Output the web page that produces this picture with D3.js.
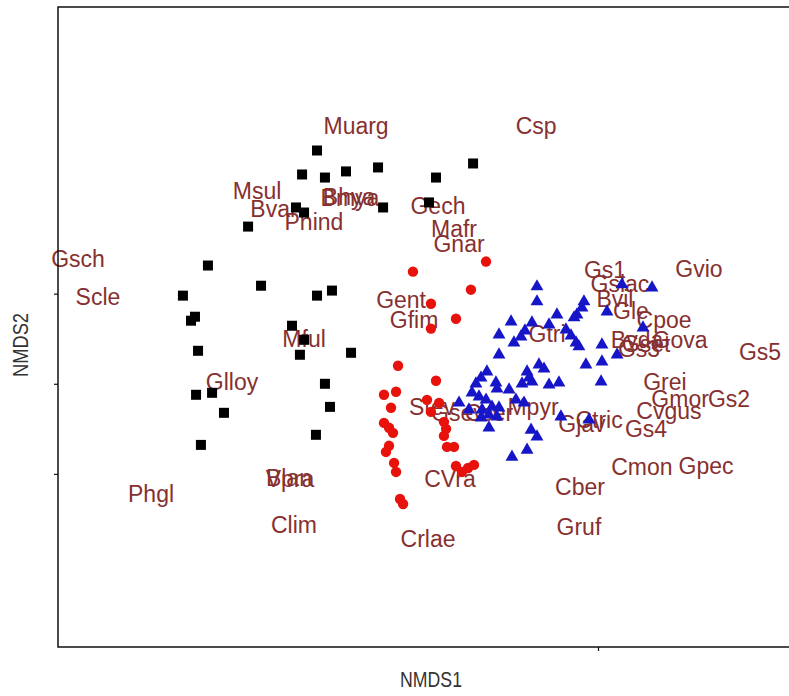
<!DOCTYPE html>
<html>
<head>
<meta charset="utf-8">
<style>
body { margin: 0; background: #fff; }
.sp text { font: 23px "Liberation Sans", Arial, sans-serif; fill: #873030; }
.axtitle { font: 22px "Liberation Sans", Arial, sans-serif; fill: #333; }
.axis .domain { display: none; }
.axis line { stroke: #111; stroke-width: 1.2; }
</style>
<script src="https://cdnjs.cloudflare.com/ajax/libs/d3/7.8.5/d3.min.js"></script>
</head>
<body>
<svg width="789" height="696"></svg>
<script>
// site scores, group 1 (black squares)
var grp1 = [
[-0.561,1.294],[-0.644,1.161],[-0.517,1.144],[-0.400,1.178],[-0.222,1.200],[0.306,1.222],
[0.100,1.144],[-0.194,0.978],[0.061,1.006],[-0.678,0.978],[-0.633,0.950],[-0.944,0.872],
[-1.167,0.656],[-0.872,0.544],[-1.306,0.489],[-0.561,0.489],[-0.478,0.517],[-1.239,0.372],
[-1.261,0.350],[-0.700,0.322],[-0.633,0.244],[-0.656,0.161],[-0.372,0.172],[-1.222,0.183],
[-1.144,-0.050],[-1.233,-0.061],[-0.517,0.000],[-1.078,-0.161],[-0.489,-0.128],[-0.567,-0.283],
[-1.206,-0.339]
];
// group 2 (red circles)
var grp2 = [
[0.378,0.678],[-0.028,0.622],[0.294,0.522],[0.072,0.444],[0.211,0.361],[0.072,0.306],
[-0.111,0.100],[0.100,0.017],[-0.189,-0.061],[-0.122,-0.044],[-0.150,-0.133],[0.050,-0.089],
[0.117,-0.106],[0.072,-0.156],[-0.189,-0.217],[-0.161,-0.244],[-0.139,-0.272],[0.144,-0.211],
[0.156,-0.250],[0.144,-0.289],[-0.161,-0.344],[-0.178,-0.378],[0.161,-0.350],[0.200,-0.350],
[-0.133,-0.439],[-0.122,-0.489],[0.211,-0.456],[0.244,-0.489],[0.311,-0.450],[0.278,-0.467],
[-0.100,-0.639],[-0.083,-0.667]
];
// group 3 (blue triangles)
var grp3 = [
[0.661,0.539],[0.661,0.456],[0.517,0.344],[0.450,0.272],[0.572,0.261],[0.594,0.294],
[0.533,0.228],[0.633,0.339],[0.728,0.328],[0.772,0.383],[0.883,0.383],[0.911,0.422],
[0.922,0.456],[0.822,0.300],[0.850,0.267],[0.878,0.228],[0.894,0.206],[1.050,0.400],
[1.133,0.550],[1.300,0.533],[1.022,0.217],[1.106,0.161],[1.250,0.311],[0.450,0.161],
[0.672,0.106],[0.700,0.083],[0.933,0.106],[1.022,0.122],[1.017,0.011],[0.606,0.067],
[0.617,0.033],[0.578,0.000],[0.633,0.011],[0.506,-0.033],[0.728,-0.006],[0.783,0.006],
[0.383,0.067],[0.350,0.033],[0.322,0.000],[0.433,0.006],[0.439,-0.028],[0.300,-0.050],
[0.339,-0.072],[0.378,-0.089],[0.228,-0.106],[0.411,-0.128],[0.450,-0.133],[0.356,-0.144],
[0.394,-0.172],[0.439,-0.183],[0.350,-0.189],[0.589,-0.106],[0.544,-0.089],[0.794,-0.183],
[0.950,-0.200],[0.628,-0.256],[0.661,-0.294],[0.394,-0.244],[0.606,-0.367],[0.522,-0.406],
[0.867,0.367],[0.283,-0.144]
];
// species scores
var species = ["Muarg","Csp","Msul","Bvar","Phind","Bhya","Bmya","Gech","Mafr","Gnar",
"Gent","Gfim","Gsch","Scle","Mful","Glloy","Phgl","Blan","Vpra","Clim",
"CVra","Crlae","Gs1","Gslac","Bvil","Gle","Cpoe","Gvio","Bvda","Gova",
"Gs3","Gset","Gs5","Grei","Gmor","Gs2","Cvgus","Gjav","Ctric","Gs4",
"Cmon","Gpec","Cber","Gruf","Gtri","Mpyr","Stev","Gsev","Ccer"];
var spX = [-0.344,0.656,-0.894,-0.800,-0.578,-0.383,-0.378,0.111,0.200,0.228,
-0.094,-0.022,-1.889,-1.778,-0.633,-1.033,-1.483,-0.717,-0.711,-0.689,
0.178,0.056,1.039,1.122,1.094,1.183,1.367,1.561,1.217,1.456,
1.228,1.267,1.900,1.372,1.456,1.728,1.394,0.911,1.006,1.267,
1.244,1.600,0.900,0.894,0.717,0.639,0.078,0.222,0.394];
var spY = [1.428,1.428,1.072,0.972,0.900,1.039,1.033,0.989,0.861,0.778,
0.467,0.356,0.694,0.483,0.250,0.011,-0.611,-0.522,-0.528,-0.783,
-0.528,-0.861,0.633,0.556,0.472,0.406,0.356,0.639,0.244,0.244,
0.194,0.222,0.178,0.011,-0.083,-0.083,-0.150,-0.222,-0.200,-0.250,
-0.461,-0.456,-0.572,-0.794,0.278,-0.128,-0.128,-0.161,-0.161];
var xTicks = [1];
var yTicks = [-0.5, 0, 0.5];

var svg = d3.select("svg");
var mLeft = 58, mTop = 7, mRight = 796, mBottom = 647;

var x = d3.scaleLinear().domain([-2.0, 2.1]).range([mLeft, mRight]);
var y = d3.scaleLinear().domain([-1.46, 2.09]).range([mBottom, mTop]);

// species labels first, points are drawn over them
svg.append("g").attr("class", "sp")
  .selectAll("text")
  .data(species)
  .enter().append("text")
  .attr("x", function(d, i) { return x(spX[i]); })
  .attr("y", function(d, i) { return y(spY[i]); })
  .attr("dy", "0.35em")
  .attr("text-anchor", "middle")
  .text(function(d) { return d; });

svg.append("g").selectAll("rect")
  .data(grp1)
  .enter().append("rect")
  .attr("x", function(d) { return x(d[0]) - 5; })
  .attr("y", function(d) { return y(d[1]) - 5; })
  .attr("width", 10).attr("height", 10)
  .attr("fill", "#000");

svg.append("g").selectAll("circle")
  .data(grp2)
  .enter().append("circle")
  .attr("cx", function(d) { return x(d[0]); })
  .attr("cy", function(d) { return y(d[1]); })
  .attr("r", 5.2)
  .attr("fill", "#e8120c");

var tri = d3.symbol().type(d3.symbolTriangle).size(72);
svg.append("g").selectAll("path")
  .data(grp3)
  .enter().append("path")
  .attr("d", tri)
  .attr("transform", function(d) { return "translate(" + x(d[0]) + "," + y(d[1]) + ")"; })
  .attr("fill", "#1616c8");

// frame
svg.append("rect")
  .attr("x", mLeft).attr("y", mTop)
  .attr("width", mRight - mLeft).attr("height", mBottom - mTop)
  .attr("fill", "none").attr("stroke", "#111").attr("stroke-width", 1.5);

svg.append("g").attr("class", "axis")
  .attr("transform", "translate(" + mLeft + ",0)")
  .call(d3.axisLeft(y).tickValues(yTicks).tickSize(4).tickFormat(""));

svg.append("g").attr("class", "axis")
  .attr("transform", "translate(0," + mBottom + ")")
  .call(d3.axisBottom(x).tickValues(xTicks).tickSize(4).tickFormat(""));

svg.append("text").attr("class", "axtitle")
  .attr("x", 431).attr("y", 687)
  .attr("text-anchor", "middle")
  .attr("textLength", 62).attr("lengthAdjust", "spacingAndGlyphs")
  .text("NMDS1");

svg.append("text").attr("class", "axtitle")
  .attr("transform", "translate(28,345) rotate(-90)")
  .attr("text-anchor", "middle")
  .attr("textLength", 64).attr("lengthAdjust", "spacingAndGlyphs")
  .text("NMDS2");
</script>
</body>
</html>
